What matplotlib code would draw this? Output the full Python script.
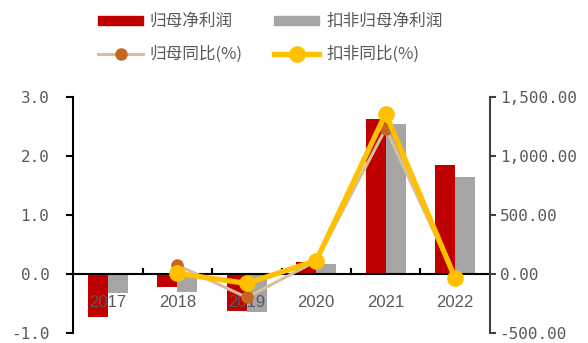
import matplotlib
matplotlib.use("Agg")
import matplotlib.pyplot as plt
from matplotlib.patches import Patch
from matplotlib.lines import Line2D
import numpy as np

plt.rcParams['font.family'] = ['Noto Sans CJK SC', 'DejaVu Sans']

# Data
years = ["2017", "2018", "2019", "2020", "2021", "2022"]
net_profit = [-0.73, -0.22, -0.63, 0.20, 2.63, 1.85]          # 归母净利润
net_profit_deducted = [-0.32, -0.30, -0.64, 0.17, 2.54, 1.64]  # 扣非归母净利润
yoy_profit = [None, 76, -199, 110, 1233, -30]                  # 归母同比(%)
yoy_deducted = [None, 5, -80, 114, 1360, -38]                  # 扣非同比(%)

left_ticks = [-1.0, 0.0, 1.0, 2.0, 3.0]
right_ticks = [-500, 0, 500, 1000, 1500]

RED = "#C00000"
GRAY = "#A5A5A5"
TAN = "#D9BE9C"
BROWN = "#C5651E"
YELLOW = "#FFC000"
TXT = "#595959"

fig = plt.figure(figsize=(5.88, 3.43), dpi=100)
ax = fig.add_axes([73 / 588, 10 / 343, (490 - 73) / 588, 236 / 343])

x = np.arange(len(years))
w = 0.285
ax.bar(x - w / 2, net_profit, w, color=RED, zorder=2)
ax.bar(x + w / 2, net_profit_deducted, w, color=GRAY, zorder=2)

ax.set_xlim(-0.5, len(years) - 0.5)
ax.set_ylim(-1, 3)
ax.set_yticks(left_ticks)
ax.set_yticklabels([f"{v:.1f}" for v in left_ticks], family="DejaVu Sans Mono",
                   fontsize=11.5, color=TXT)
ax.tick_params(axis="y", direction="out", length=5, width=1.5, color="black", pad=12)

# Horizontal axis through zero with inward ticks between categories
ax.spines["bottom"].set_position(("data", 0))
ax.spines["bottom"].set_linewidth(1.5)
ax.spines["left"].set_linewidth(1.5)
ax.spines["top"].set_visible(False)
ax.spines["right"].set_visible(False)
ax.set_xticks(np.arange(0.5, len(years) - 0.5, 1.0))
ax.set_xticklabels([])
ax.tick_params(axis="x", direction="in", length=4, width=1.5)

for i, yr in enumerate(years):
    ax.annotate(yr, (i, 0), xytext=(0, -15), textcoords="offset points",
                ha="center", va="top", fontsize=12, color=TXT,
                family="Liberation Sans", zorder=5)

ax2 = ax.twinx()
ax2.set_ylim(-500, 1500)
ax2.set_yticks(right_ticks)
ax2.set_yticklabels([f"{v:,.2f}" for v in right_ticks], family="DejaVu Sans Mono",
                    fontsize=11.5, color=TXT)
ax2.tick_params(axis="y", direction="out", length=4, width=1.5, color="#404040", pad=3)
for s in ["top", "left", "bottom"]:
    ax2.spines[s].set_visible(False)
ax2.spines["right"].set_color("#404040")
ax2.spines["right"].set_linewidth(1.5)

yp = np.array([np.nan if v is None else v for v in yoy_profit], dtype=float)
yd = np.array([np.nan if v is None else v for v in yoy_deducted], dtype=float)
ax2.plot(x, yp, color=TAN, lw=2.2, marker="o", ms=8, mfc=BROWN, mec=BROWN, zorder=3)
ax2.plot(x, yd, color=YELLOW, lw=3.8, marker="o", ms=11, mfc=YELLOW, mec=YELLOW, zorder=4)

handles = [
    Patch(color=RED),
    Line2D([], [], color=TAN, lw=2.2, marker="o", ms=8, mfc=BROWN, mec=BROWN),
    Patch(color=GRAY),
    Line2D([], [], color=YELLOW, lw=3.8, marker="o", ms=11, mfc=YELLOW, mec=YELLOW),
]
labels = ["归母净利润", "归母同比(%)", "扣非归母净利润", "扣非同比(%)"]
fig.legend(handles, labels, ncol=2, loc="upper left", bbox_to_anchor=(98 / 588, 1 - 13 / 343),
           frameon=False, fontsize=12, handlelength=2.7, handleheight=0.45,
           handletextpad=0.4, columnspacing=1.9, labelspacing=0.95, borderpad=0,
           borderaxespad=0, labelcolor=TXT)

fig.savefig("out.png", dpi=100)
